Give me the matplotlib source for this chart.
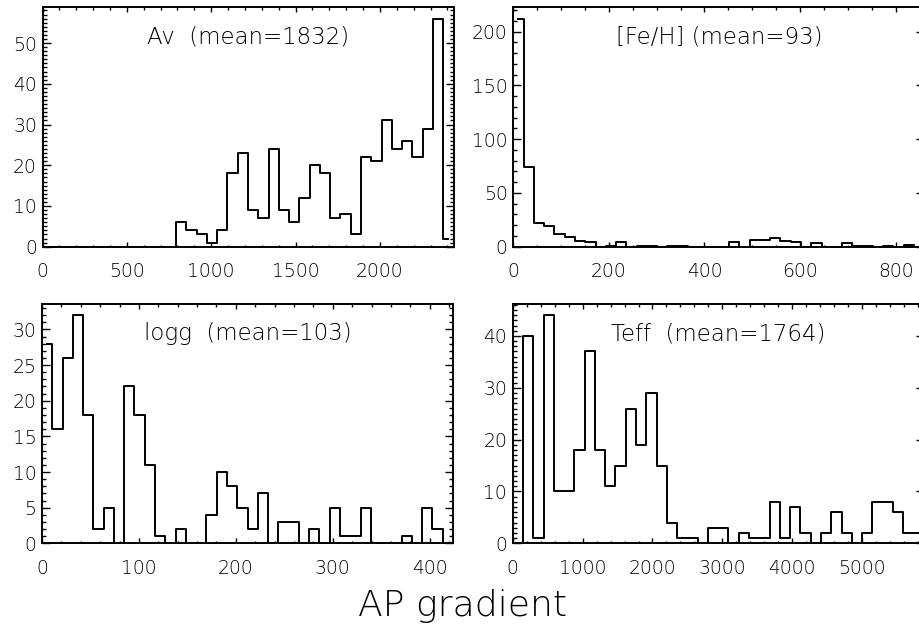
import numpy as np
import matplotlib
matplotlib.use("Agg")
import matplotlib.pyplot as plt
from matplotlib.ticker import MultipleLocator

# 40-bin histograms of the AP gradient, range [0, xmax]
av_xmax = 2436
av_counts = [0, 0, 0, 0, 0, 0, 0, 0, 0, 0, 0, 0, 0,
             6, 4, 3, 1, 4, 18, 23, 9, 7, 24, 9, 6, 12, 20, 18, 7, 8,
             3, 22, 21, 31, 24, 26, 22, 29, 56, 2]

feh_xmax = 860
feh_counts = [212, 74, 22, 19, 12, 9, 5, 4, 0, 1, 4, 0, 1, 1, 0, 1, 1, 0, 0, 0,
              0, 4, 0, 6, 6, 8, 5, 4, 0, 3, 0, 0, 3, 1, 1, 0, 1, 0, 2, 0]

logg_xmax = 424
logg_counts = [28, 16, 26, 32, 18, 2, 5, 0, 22, 18, 11, 1, 0, 2, 0, 0, 4, 10, 8, 5,
               2, 7, 0, 3, 3, 0, 2, 0, 5, 1, 1, 5, 0, 0, 0, 1, 0, 5, 2, 0]

teff_xmax = 5880
teff_counts = [0, 40, 1, 44, 10, 10, 18, 37, 18, 11, 15, 26, 19, 29, 15, 4, 1, 1, 0, 3,
               3, 0, 2, 1, 1, 8, 1, 7, 2, 0, 2, 6, 2, 0, 2, 8, 8, 6, 2, 2]

titles = ["Av  (mean=1832)", "[Fe/H] (mean=93)", "logg  (mean=103)", "Teff  (mean=1764)"]

plt.rcParams["font.family"] = "DejaVu Sans"
plt.rcParams["font.weight"] = "light"

# (xmax, counts, title, x major, x minor, y major, y minor, left px, bottom px)
panels = [
    (av_xmax, av_counts, titles[0], 500, 100, 10, 1, 42.5, 246.7),
    (feh_xmax, feh_counts, titles[1], 200, 50, 50, 10, 513.3, 246.7),
    (logg_xmax, logg_counts, titles[2], 100, 20, 5, 1, 42.0, 543.3),
    (teff_xmax, teff_counts, titles[3], 1000, 200, 10, 1, 512.7, 543.3),
]

W, H = 919, 633
AXW, AXH = 411, 239.5

fig = plt.figure(figsize=(W / 100, H / 100), dpi=100)

for xmax, counts, title, xmaj, xmin, ymaj, ymin, left, bottom in panels:
    ax = fig.add_axes([left / W, 1 - bottom / H, AXW / W, AXH / H])
    counts = np.asarray(counts)
    w = xmax / len(counts)
    centers = (np.arange(len(counts)) + 0.5) * w
    # IDL psym=10 style: steps centred on the bin centres
    ax.step(centers, counts, where="mid", color="black", lw=1.4)
    ax.set_xlim(0, xmax)
    ax.set_ylim(0, 1.05 * counts.max())

    ax.xaxis.set_major_locator(MultipleLocator(xmaj))
    ax.xaxis.set_minor_locator(MultipleLocator(xmin))
    ax.yaxis.set_major_locator(MultipleLocator(ymaj))
    ax.yaxis.set_minor_locator(MultipleLocator(ymin))

    ax.tick_params(which="both", direction="in", top=True, right=True, width=1.0,
                   labelsize=13.5, labelcolor="black")
    ax.tick_params(axis="x", which="major", length=3.6, pad=11)
    ax.tick_params(axis="x", which="minor", length=1.8)
    ax.tick_params(axis="y", which="major", length=6.0, pad=4)
    ax.tick_params(axis="y", which="minor", length=3.0)
    for sp in ax.spines.values():
        sp.set_linewidth(1.4)

    ax.text(0.5, 0.875, title, transform=ax.transAxes, ha="center", va="center",
            fontsize=16.5)

fig.text(0.503, 1 - 606 / H, "AP gradient", ha="center", va="center", fontsize=26)

fig.savefig("out.png", dpi=100)
